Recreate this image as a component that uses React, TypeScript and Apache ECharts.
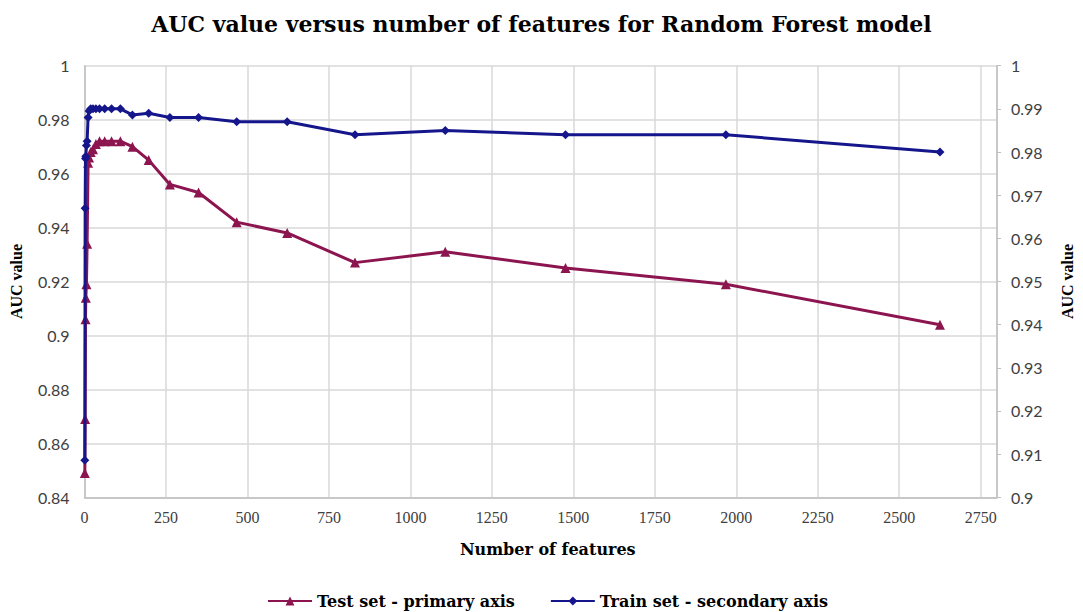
import React, { useEffect, useRef } from "react";
import * as echarts from "echarts";

const features = [1, 2, 3, 4, 6, 8, 11, 14, 19, 26, 35, 46, 62, 83, 110, 147, 197, 262, 350, 467, 622, 830, 1107, 1476, 1968, 2625];
const testAuc = [0.849, 0.869, 0.906, 0.914, 0.919, 0.934, 0.964, 0.966, 0.968, 0.969, 0.971, 0.972, 0.972, 0.972, 0.972, 0.970, 0.965, 0.956, 0.953, 0.942, 0.938, 0.927, 0.931, 0.925, 0.919, 0.904];
const trainAuc = [0.9086, 0.967, 0.9785, 0.979, 0.9815, 0.9825, 0.988, 0.9895, 0.99, 0.99, 0.99, 0.99, 0.99, 0.99, 0.99, 0.9886, 0.989, 0.988, 0.988, 0.987, 0.987, 0.984, 0.985, 0.984, 0.984, 0.98];

const titleText = "AUC value versus number of features for Random Forest model";
const xName = "Number of features";
const yName = "AUC value";
const testName = "Test set - primary axis";
const trainName = "Train set - secondary axis";

const TEST_COLOR = "#8C1550";
const TRAIN_COLOR = "#15168C";
const GRID_COLOR = "#D9D9D9";
const SERIF = "'DejaVu Serif', 'Liberation Serif', serif";
const LIB_SERIF = "'Liberation Serif', serif";
const LABEL_SANS = "Lato, 'Open Sans', sans-serif";

const fmt = (v: number) => String(+v.toFixed(2));

export default function App() {
  const ref = useRef<HTMLDivElement>(null);
  useEffect(() => {
    if (!ref.current) return;
    const chart = echarts.init(ref.current, undefined, { renderer: "svg" });
    chart.setOption({
      animation: false,
      backgroundColor: "#ffffff",
      title: {
        text: titleText,
        left: "center",
        top: 8,
        textStyle: { fontFamily: SERIF, fontWeight: "bold", fontSize: 22, color: "#000" },
      },
      legend: {
        top: 588,
        left: 262,
        itemWidth: 44,
        itemHeight: 11,
        itemGap: 35,
        textStyle: { fontFamily: SERIF, fontWeight: "bold", fontSize: 16, color: "#000" },
        data: [testName, trainName],
      },
      grid: { left: 84.5, right: 83, top: 65.7, bottom: 114.7, containLabel: false },
      xAxis: {
        type: "value",
        min: 0,
        max: 2800,
        interval: 250,
        name: xName,
        nameLocation: "middle",
        nameGap: 44,
        nameTextStyle: { fontFamily: SERIF, fontWeight: "bold", fontSize: 16, color: "#000", padding: [0, 0, 0, 14] },
        axisLine: { show: true, lineStyle: { color: "#BFBFBF", width: 1.5 } },
        axisTick: { show: false },
        splitLine: { show: true, lineStyle: { color: GRID_COLOR, width: 1.5 } },
        axisLabel: {
          showMaxLabel: false,
          margin: 12,
          fontFamily: LIB_SERIF,
          fontSize: 16,
          color: "#404040",
          formatter: (v: number) => (v > 2750 ? "" : String(v)),
        },
      },
      yAxis: [
        {
          type: "value",
          min: 0.84,
          max: 1,
          interval: 0.02,
          name: yName,
          nameLocation: "middle",
          nameGap: 60,
          nameTextStyle: { fontFamily: LIB_SERIF, fontWeight: "bold", fontSize: 16, color: "#000" },
          axisLine: { show: true, lineStyle: { color: "#BFBFBF", width: 1.5 } },
          axisTick: { show: false },
          splitLine: { show: true, lineStyle: { color: GRID_COLOR, width: 1.5 } },
          axisLabel: { margin: 15, fontFamily: LABEL_SANS, fontSize: 16, color: "#404040", formatter: fmt },
        },
        {
          type: "value",
          min: 0.9,
          max: 1,
          interval: 0.01,
          position: "right",
          name: yName,
          nameLocation: "middle",
          nameGap: 62,
          nameRotate: 90,
          nameTextStyle: { fontFamily: LIB_SERIF, fontWeight: "bold", fontSize: 16, color: "#000" },
          axisLine: { show: true, lineStyle: { color: "#BFBFBF", width: 1.5 } },
          axisTick: { show: true, inside: false, length: 4, lineStyle: { color: "#BFBFBF" } },
          splitLine: { show: false },
          axisLabel: { margin: 14, fontFamily: LABEL_SANS, fontSize: 16, color: "#404040", formatter: fmt },
        },
      ],
      series: [
        {
          name: testName,
          type: "line",
          yAxisIndex: 0,
          data: features.map((f, i) => [f, testAuc[i]]),
          symbol: "triangle",
          symbolSize: 10,
          lineStyle: { color: TEST_COLOR, width: 3 },
          itemStyle: { color: TEST_COLOR },
          z: 3,
        },
        {
          name: trainName,
          type: "line",
          yAxisIndex: 1,
          data: features.map((f, i) => [f, trainAuc[i]]),
          symbol: "diamond",
          symbolSize: 9,
          lineStyle: { color: TRAIN_COLOR, width: 3 },
          itemStyle: { color: TRAIN_COLOR },
          z: 4,
        },
      ],
    });
    return () => chart.dispose();
  }, []);
  return (
    <div
      ref={ref}
      style={{ position: "fixed", left: 0, top: 0, width: 1083, height: 612, background: "#fff" }}
    />
  );
}
